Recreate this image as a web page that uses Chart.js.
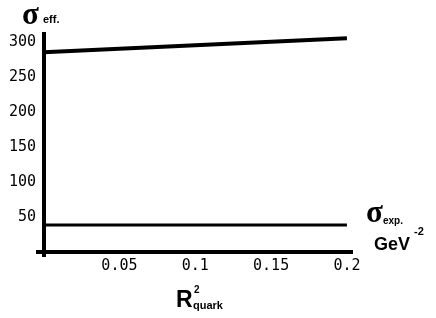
<!DOCTYPE html>
<html>
<head>
<meta charset="utf-8">
<script src="https://cdn.jsdelivr.net/npm/chart.js@4.4.0/dist/chart.umd.min.js"></script>
<style>
    html, body { margin: 0; padding: 0; background: #fff; }
    #wrap { position: relative; width: 436px; height: 318px; }
</style>
</head>
<body>
<div id="wrap"><canvas id="chart" width="436" height="318"></canvas></div>
<script>
// values
const rQuark = [0, 0.2];
const sigmaEff = [285, 305];
const sigmaExp = [38.5, 38.5];
const xTicks = [0, 0.05, 0.1, 0.15, 0.2];
const yTicks = [0, 50, 100, 150, 200, 250, 300];

// zero lines act as the axes
function zeroLine(ctx) {
    return ctx.tick && ctx.tick.value === 0 ? '#000' : 'rgba(0,0,0,0)';
}

// labels beside the axes (sigma, GeV^-2, R^2 quark)
const labelPlugin = {
    id: 'labels',
    afterDraw(chart) {
        const c = chart.ctx;
        c.save();
        c.fillStyle = '#000';
        c.textBaseline = 'alphabetic';
        c.textAlign = 'left';

        c.font = 'bold 31px "Liberation Serif"';
        c.fillText('σ', 22, 24);
        c.font = 'bold 11px "Liberation Sans"';
        c.fillText('eff.', 43, 23);

        c.font = 'bold 31px "Liberation Serif"';
        c.fillText('σ', 366, 222);
        c.font = 'bold 10px "Liberation Sans"';
        c.fillText('exp.', 383, 224);

        c.font = 'bold 18px "Liberation Sans"';
        c.fillText('GeV', 374, 250);
        c.font = 'bold 11px "Liberation Sans"';
        c.fillText('-2', 414, 235);

        c.font = 'bold 23px "Liberation Sans"';
        c.fillText('R', 176, 307);
        c.font = 'bold 10px "Liberation Sans"';
        c.fillText('2', 194, 293);
        c.font = 'bold 11px "Liberation Sans"';
        c.fillText('quark', 193, 309);
        c.restore();
    }
};

new Chart(document.getElementById('chart'), {
    type: 'line',
    data: {
        labels: rQuark,
        datasets: [
            {
                label: 'sigma eff',
                data: rQuark.map((x, i) => ({ x: x, y: sigmaEff[i] })),
                borderColor: '#000',
                borderWidth: 4,
                pointRadius: 0,
                fill: false
            },
            {
                label: 'sigma exp',
                data: rQuark.map((x, i) => ({ x: x, y: sigmaExp[i] })),
                borderColor: '#000',
                borderWidth: 3,
                pointRadius: 0,
                fill: false
            }
        ]
    },
    options: {
        responsive: false,
        animation: false,
        layout: { padding: { top: 32, right: 83, left: 0, bottom: 0 } },
        plugins: {
            legend: { display: false },
            tooltip: { enabled: false }
        },
        scales: {
            x: {
                type: 'linear',
                min: -0.005,
                max: 0.204,
                afterBuildTicks: scale => { scale.ticks = xTicks.map(v => ({ value: v })); },
                afterFit: scale => { scale.height = 61; },
                border: { display: false },
                grid: { color: zeroLine, lineWidth: 4, drawTicks: false },
                ticks: {
                    color: '#000',
                    padding: 0,
                    maxRotation: 0,
                    autoSkip: false,
                    font: { family: '"DejaVu Sans Mono"', size: 15 },
                    callback: v => v === 0 ? '' : String(v)
                }
            },
            y: {
                min: -7,
                max: 314,
                afterBuildTicks: scale => { scale.ticks = yTicks.map(v => ({ value: v })); },
                afterFit: scale => { scale.width = 36; },
                border: { display: false },
                grid: { color: zeroLine, lineWidth: 4, drawTicks: false },
                ticks: {
                    color: '#000',
                    padding: 0,
                    autoSkip: false,
                    font: { family: '"DejaVu Sans Mono"', size: 15 },
                    callback: v => v === 0 ? '' : String(v)
                }
            }
        }
    },
    plugins: [labelPlugin]
});
</script>
</body>
</html>
